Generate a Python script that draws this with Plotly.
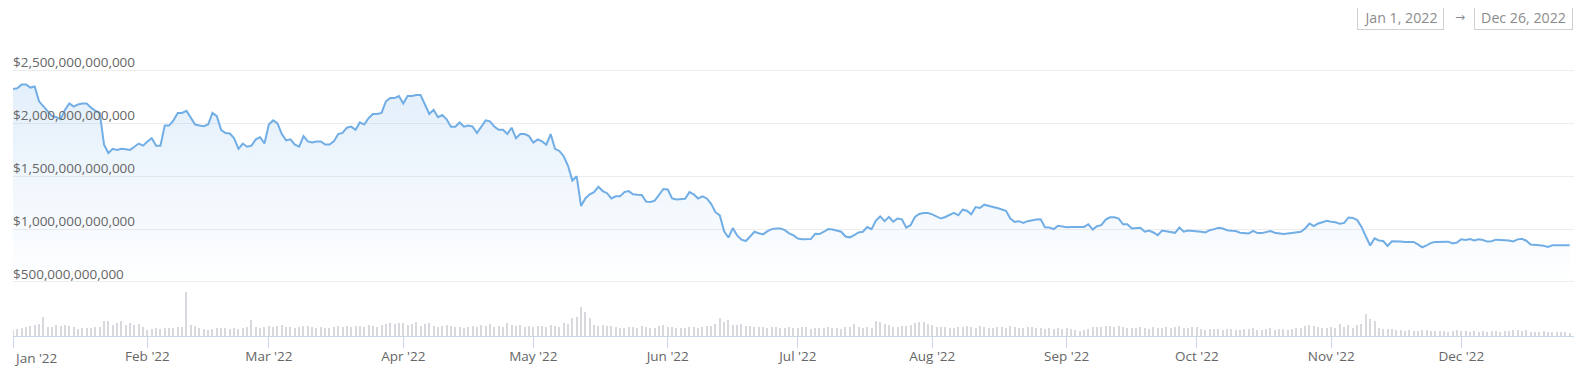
import plotly.graph_objects as go
import pandas as pd

START_DATE = "2022-01-01"

# Total market capitalisation, trillions USD, one value per day from Jan 1, 2022
market_cap_trillions = [
    2.327, 2.333, 2.37, 2.37, 2.34, 2.35, 2.21, 2.16, 2.11, 2.07,
    2.06, 2.04, 2.13, 2.19, 2.16, 2.18, 2.19, 2.19, 2.15, 2.12,
    2.10, 1.80, 1.72, 1.76, 1.75, 1.76, 1.755, 1.75, 1.78, 1.81,
    1.79, 1.83, 1.86, 1.79, 1.79, 1.98, 1.98, 2.03, 2.10, 2.10,
    2.12, 2.06, 1.99, 1.98, 1.975, 1.99, 2.10, 2.07, 1.94, 1.91,
    1.905, 1.86, 1.76, 1.81, 1.78, 1.79, 1.85, 1.87, 1.81, 1.99,
    2.03, 2.00, 1.90, 1.84, 1.85, 1.80, 1.78, 1.88, 1.83, 1.82,
    1.83, 1.83, 1.80, 1.80, 1.83, 1.90, 1.91, 1.96, 1.97, 1.94,
    2.01, 1.99, 2.05, 2.09, 2.09, 2.10, 2.21, 2.24, 2.24, 2.26,
    2.19, 2.26, 2.26, 2.27, 2.27, 2.18, 2.09, 2.13, 2.06, 2.08,
    2.04, 1.97, 1.97, 2.01, 1.97, 1.98, 1.97, 1.91, 1.97, 2.03,
    2.02, 1.97, 1.94, 1.94, 1.90, 1.96, 1.86, 1.90, 1.90, 1.88,
    1.82, 1.85, 1.83, 1.80, 1.90, 1.76, 1.74, 1.69, 1.60, 1.46,
    1.50, 1.22, 1.29, 1.33, 1.35, 1.40, 1.36, 1.34, 1.29, 1.31,
    1.31, 1.35, 1.36, 1.33, 1.325, 1.324, 1.26, 1.256, 1.27, 1.32,
    1.38, 1.375, 1.29, 1.28, 1.285, 1.287, 1.35, 1.33, 1.29, 1.31,
    1.29, 1.24, 1.16, 1.13, 0.98, 0.92, 1.01, 0.94, 0.90, 0.887,
    0.93, 0.975, 0.96, 0.95, 0.98, 1.00, 1.006, 1.006, 0.99, 0.96,
    0.94, 0.91, 0.905, 0.903, 0.906, 0.955, 0.953, 0.975, 1.00, 0.996,
    0.985, 0.975, 0.93, 0.922, 0.943, 0.968, 0.975, 1.02, 1.00, 1.08,
    1.12, 1.075, 1.115, 1.07, 1.10, 1.093, 1.015, 1.037, 1.115, 1.143,
    1.153, 1.153, 1.14, 1.12, 1.10, 1.115, 1.131, 1.153, 1.131, 1.184,
    1.174, 1.14, 1.209, 1.20, 1.231, 1.218, 1.21, 1.20, 1.184, 1.174,
    1.10, 1.068, 1.075, 1.059, 1.075, 1.084, 1.09, 1.093, 1.018, 1.015,
    1.00, 1.031, 1.021, 1.018, 1.02, 1.021, 1.021, 1.021, 1.046, 0.996,
    1.028, 1.037, 1.09, 1.112, 1.112, 1.10, 1.046, 1.046, 1.006, 1.008,
    1.012, 0.975, 0.987, 0.968, 0.943, 0.987, 0.98, 0.975, 0.965, 1.015,
    0.975, 0.987, 0.985, 0.984, 0.975, 0.968, 0.99, 1.00, 1.012, 1.005,
    0.99, 0.984, 0.981, 0.965, 0.965, 0.959, 0.984, 0.962, 0.962, 0.97,
    0.981, 0.965, 0.96, 0.953, 0.958, 0.965, 0.97, 0.975, 1.006, 1.053,
    1.028, 1.053, 1.065, 1.078, 1.07, 1.065, 1.05, 1.059, 1.11, 1.106,
    1.085, 1.021, 0.93, 0.845, 0.912, 0.893, 0.887, 0.840, 0.885, 0.887,
    0.882, 0.878, 0.875, 0.878, 0.856, 0.828, 0.845, 0.870, 0.878, 0.878,
    0.878, 0.881, 0.865, 0.872, 0.904, 0.897, 0.906, 0.892, 0.903, 0.897,
    0.882, 0.886, 0.900, 0.898, 0.895, 0.892, 0.883, 0.903, 0.908, 0.89,
    0.855, 0.848, 0.848, 0.842, 0.832, 0.847, 0.85, 0.848, 0.847, 0.847,
]

# Daily trading volume, billions USD
volume_billions = [
    60, 75, 80, 90, 100, 110, 120, 190, 90, 95,
    110, 100, 110, 105, 90, 75, 80, 85, 80, 90,
    95, 150, 150, 110, 130, 150, 110, 130, 110, 125,
    90, 65, 70, 80, 75, 85, 80, 85, 90, 95,
    440, 115, 100, 85, 75, 65, 75, 80, 80, 80,
    75, 85, 75, 85, 90, 160, 90, 80, 95, 105,
    95, 100, 110, 90, 95, 85, 90, 105, 100, 95,
    85, 90, 80, 85, 95, 100, 95, 105, 90, 100,
    105, 95, 110, 100, 95, 115, 125, 130, 120, 135,
    130, 110, 120, 140, 105, 125, 130, 100, 95, 105,
    110, 100, 95, 90, 85, 95, 100, 90, 110, 105,
    120, 95, 100, 90, 130, 110, 100, 110, 95, 100,
    90, 105, 100, 95, 110, 100, 95, 130, 120, 185,
    195, 290, 240, 180, 115, 100, 110, 105, 100, 95,
    85, 80, 90, 95, 85, 100, 95, 80, 85, 105,
    110, 95, 90, 85, 80, 85, 95, 90, 85, 95,
    100, 105, 120, 180, 140, 165, 115, 110, 120, 105,
    100, 95, 95, 90, 85, 95, 90, 85, 80, 90,
    85, 80, 90, 95, 75, 80, 85, 80, 90, 80,
    85, 75, 90, 95, 120, 95, 85, 90, 80, 150,
    140, 125, 115, 95, 90, 100, 105, 115, 130, 145,
    140, 120, 115, 95, 90, 95, 85, 80, 90, 95,
    100, 90, 85, 105, 90, 80, 85, 90, 95, 85,
    100, 90, 85, 80, 95, 90, 85, 80, 75, 85,
    70, 80, 75, 80, 70, 60, 55, 60, 75, 95,
    95, 90, 105, 100, 95, 100, 90, 85, 80, 85,
    90, 85, 75, 95, 85, 80, 90, 85, 95, 100,
    85, 80, 95, 90, 75, 65, 70, 75, 70, 65,
    75, 70, 60, 65, 75, 70, 80, 65, 60, 70,
    85, 65, 70, 75, 65, 70, 80, 85, 100, 110,
    105, 95, 85, 80, 90, 85, 125, 95, 110, 80,
    115, 120, 220, 170, 150, 85, 70, 75, 70, 65,
    60, 55, 60, 50, 55, 65, 60, 55, 50, 55,
    50, 45, 55, 60, 55, 50, 45, 50, 45, 50,
    45, 50, 55, 45, 50, 55, 65, 60, 55, 60,
    45, 40, 45, 50, 45, 45, 40, 45, 40, 35,
]

month_ticks = ["2022-01-01", "2022-02-01", "2022-03-01", "2022-04-01", "2022-05-01", "2022-06-01",
               "2022-07-01", "2022-08-01", "2022-09-01", "2022-10-01", "2022-11-01", "2022-12-01"]
month_labels = ["Jan '22", "Feb '22", "Mar '22", "Apr '22", "May '22", "Jun '22",
                "Jul '22", "Aug '22", "Sep '22", "Oct '22", "Nov '22", "Dec '22"]
y_ticks = [0.5e12, 1.0e12, 1.5e12, 2.0e12, 2.5e12]
y_labels = ["$500,000,000,000", "$1,000,000,000,000", "$1,500,000,000,000",
            "$2,000,000,000,000", "$2,500,000,000,000"]
range_start_label = "Jan 1, 2022"
range_end_label = "Dec 26, 2022"

dates = pd.date_range(START_DATE, periods=len(market_cap_trillions), freq="D")
market_cap = [v * 1e12 for v in market_cap_trillions]

FONT = "Open Sans, Arial, sans-serif"
LABEL_COLOR = "#666666"
FS = 13.5

fig = go.Figure()
fig.add_trace(go.Bar(
    x=dates, y=volume_billions, yaxis="y2",
    width=0.25 * 86400000,
    marker=dict(color="#d8d8de", line=dict(width=0)),
    hoverinfo="skip", showlegend=False,
))
fig.add_trace(go.Scatter(
    x=dates, y=market_cap, mode="lines",
    line=dict(color="#72aee6", width=2),
    fill="tozeroy",
    fillgradient=dict(type="vertical",
                      colorscale=[[0, "rgba(124,181,236,0)"], [1, "rgba(124,181,236,0.22)"]],
                      start=0.45e12, stop=2.4e12),
    showlegend=False,
))

ticktext = [""] + month_labels[1:]

# page is shown with the browser's default 8px body margin: figure is sized to fit inside it
fig.update_layout(
    width=1566, height=367,
    margin=dict(l=5, r=0, t=54, b=39),
    paper_bgcolor="white", plot_bgcolor="white",
    font=dict(family=FONT, size=FS, color=LABEL_COLOR),
    bargap=0,
    xaxis=dict(
        type="date", range=["2022-01-01", "2022-12-27"],
        tickvals=month_ticks, ticktext=ticktext,
        ticks="outside", ticklen=11, tickcolor="#ccd6eb", tickwidth=1,
        ticklabelstandoff=-3,
        showline=True, linecolor="#ccd6eb", linewidth=1,
        showgrid=False, zeroline=False,
        tickfont=dict(family=FONT, size=FS, color=LABEL_COLOR),
    ),
    yaxis=dict(
        range=[-0.012e12, 2.582e12],
        tickvals=y_ticks, ticktext=y_labels,
        ticklabelposition="inside", ticks="",
        ticklabelshift=-8, ticklabelstandoff=-3,
        ticklabeloverflow="allow",
        showgrid=True, gridcolor="#ededed", gridwidth=1,
        zeroline=False, showline=False,
        tickfont=dict(family=FONT, size=FS, color=LABEL_COLOR),
    ),
    yaxis2=dict(overlaying="y", range=[0, 2740], visible=False),
)

def px_x(p):
    return (p - 13) / 1561.0

def px_y(p):
    return (336 - p) / 274.0

annotations = [
    dict(x=month_ticks[0], xref="x", y=0, yref="paper", yanchor="top", xanchor="left",
         xshift=-1, yshift=-11, text=month_labels[0], showarrow=False,
         font=dict(family=FONT, size=FS, color=LABEL_COLOR)),
    dict(x=px_x(1400.5), xref="paper", y=px_y(17), yref="paper", xanchor="center", yanchor="middle",
         text=range_start_label, showarrow=False, width=85, height=24,
         bordercolor="#d0d0d0", borderwidth=1, borderpad=0, bgcolor="white",
         font=dict(family=FONT, size=14.2, color="#8c8c8c")),
    dict(x=px_x(1460), xref="paper", y=px_y(17), yref="paper", xanchor="center", yanchor="middle",
         text="→", showarrow=False,
         font=dict(family="DejaVu Sans", size=12, color="#8c8c8c")),
    dict(x=px_x(1523.5), xref="paper", y=px_y(17), yref="paper", xanchor="center", yanchor="middle",
         text=range_end_label, showarrow=False, width=97, height=24,
         bordercolor="#d0d0d0", borderwidth=1, borderpad=0, bgcolor="white",
         font=dict(family=FONT, size=14.2, color="#8c8c8c")),
]
fig.update_layout(annotations=annotations)

fig.write_html("out.html")
